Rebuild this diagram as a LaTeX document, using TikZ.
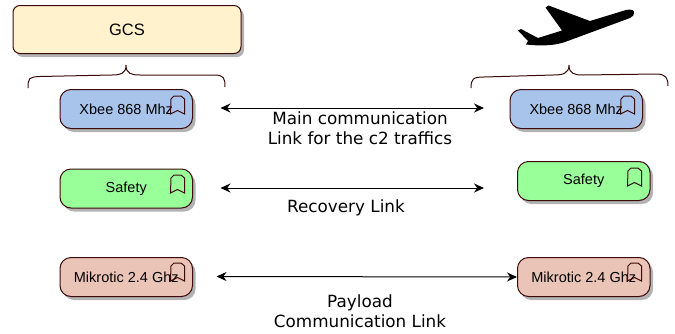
\documentclass[tikz,border=0pt]{standalone}
\usepackage{fontspec}
\setmainfont{Liberation Sans}
\newfontfamily\labelfont{DejaVu Sans}
\usetikzlibrary{arrows.meta,shadows}
\definecolor{edgedark}{HTML}{3B0A0A}
\definecolor{gcsfill}{HTML}{FFF2CC}
\definecolor{bluefill}{HTML}{A9C4EB}
\definecolor{greenfill}{HTML}{99FF99}
\definecolor{redfill}{HTML}{EAC4B6}
\tikzset{
  x=1pt,y=-1pt,
  boxbase/.style={draw=edgedark,line width=1pt,rounded corners=11pt,inner sep=0pt,anchor=north west,
    font=\fontsize{14.5}{16}\selectfont,
    drop shadow={shadow xshift=3pt,shadow yshift=-3.5pt,fill=black!50,opacity=0.6}},
  smallbox/.style={boxbase,minimum width=132.5pt,minimum height=39pt},
  gcsbox/.style={boxbase,rounded corners=7pt,fill=gcsfill,minimum width=228pt,minimum height=48pt,font=\fontsize{16.5}{20}\selectfont},
  linklabel/.style={font=\labelfont\fontsize{16.8}{20}\selectfont,align=center,inner sep=0pt},
  link/.style={line width=1pt,{Stealth[length=10pt,width=9pt]}-{Stealth[length=10pt,width=9pt]}},
  bracket/.style={draw=edgedark,line width=1pt,rounded corners=0pt},
  mark glyph/.style={draw=edgedark,line width=1pt,fill=none,line join=miter},
}
\newcommand{\bookmarkat}[2]{%
  \draw[mark glyph] (#1-6.5,#2-6) -- (#1-3.5,#2-9) -- (#1+3.5,#2-9) -- (#1+7,#2-6) -- (#1+7,#2+9) -- (#1,#2+5.5) -- (#1-7,#2+9) -- cycle;}
\begin{document}
\begin{tikzpicture}
\useasboundingbox (0,0) rectangle (675,333);
% boxes
\node[gcsbox] (gcs) at (12.5,5) {GCS};
\node[smallbox,fill=bluefill] (xl) at (59.5,89) {Xbee 868 Mhz};
\node[smallbox,fill=greenfill] (sl) at (59.5,168.5) {Safety};
\node[smallbox,fill=redfill] (ml) at (59.5,257) {Mikrotic 2.4 Ghz};
\node[smallbox,fill=bluefill] (xr) at (509.5,89) {Xbee 868 Mhz};
\node[smallbox,fill=greenfill] (sr) at (517,161) {Safety};
\node[smallbox,fill=redfill] (mr) at (517,257) {Mikrotic 2.4 Ghz};
% bookmarks
\bookmarkat{177.5}{105}
\bookmarkat{177.5}{184}
\bookmarkat{177.5}{272}
\bookmarkat{627.5}{105}
\bookmarkat{634.5}{177}
\bookmarkat{634.5}{272}
% braces
\draw[bracket] (28,88) .. controls (28,78) and (29,77) .. (40,76.5) -- (112,75) .. controls (120,75) and (126,74) .. (126,65)
  .. controls (126,74) and (132,75) .. (140,75) -- (214,75) .. controls (224,75) and (225,78) .. (225,87);
\draw[bracket] (471,88) .. controls (471,79) and (473,77) .. (484,77) -- (553,75) .. controls (562,75) and (569,74) .. (569,65)
  .. controls (569,74) and (575,75) .. (583,75) -- (656,74) .. controls (666,74) and (668,78) .. (668,86);
% aeroplane
\path[fill=black] (634,13) .. controls (635,10) and (631,9) .. (626,10) -- (590,21) -- (548.5,5.5) -- (545.5,7.5) -- (562,30.5)
  -- (538,38) -- (521,29) -- (518,30.5) -- (528,41) -- (526,44.5) .. controls (545,46.5) and (556,45) .. (565,42) -- (630,18) .. controls (633,16.5) and (634,15) .. (634,13) -- cycle;
% connectors
\coordinate (a1) at (220.5,108);
\coordinate (b1) at (484,108);
\coordinate (a2) at (220.5,188);
\coordinate (b2) at (484,188);
\coordinate (a3) at (216.5,276.5);
\draw[link] (a1) -- (b1);
\draw[link] (a2) -- (b2);
\draw[link] (a3) -- (mr.west);
% labels
\node[linklabel] (t1) at (360,128) {Main communication\\Link for the c2 traffics};
\node[linklabel] (t2) at (346,207.5) {Recovery Link};
\node[linklabel] (t3) at (360,311) {Payload\\Communication Link};
\end{tikzpicture}
\end{document}
